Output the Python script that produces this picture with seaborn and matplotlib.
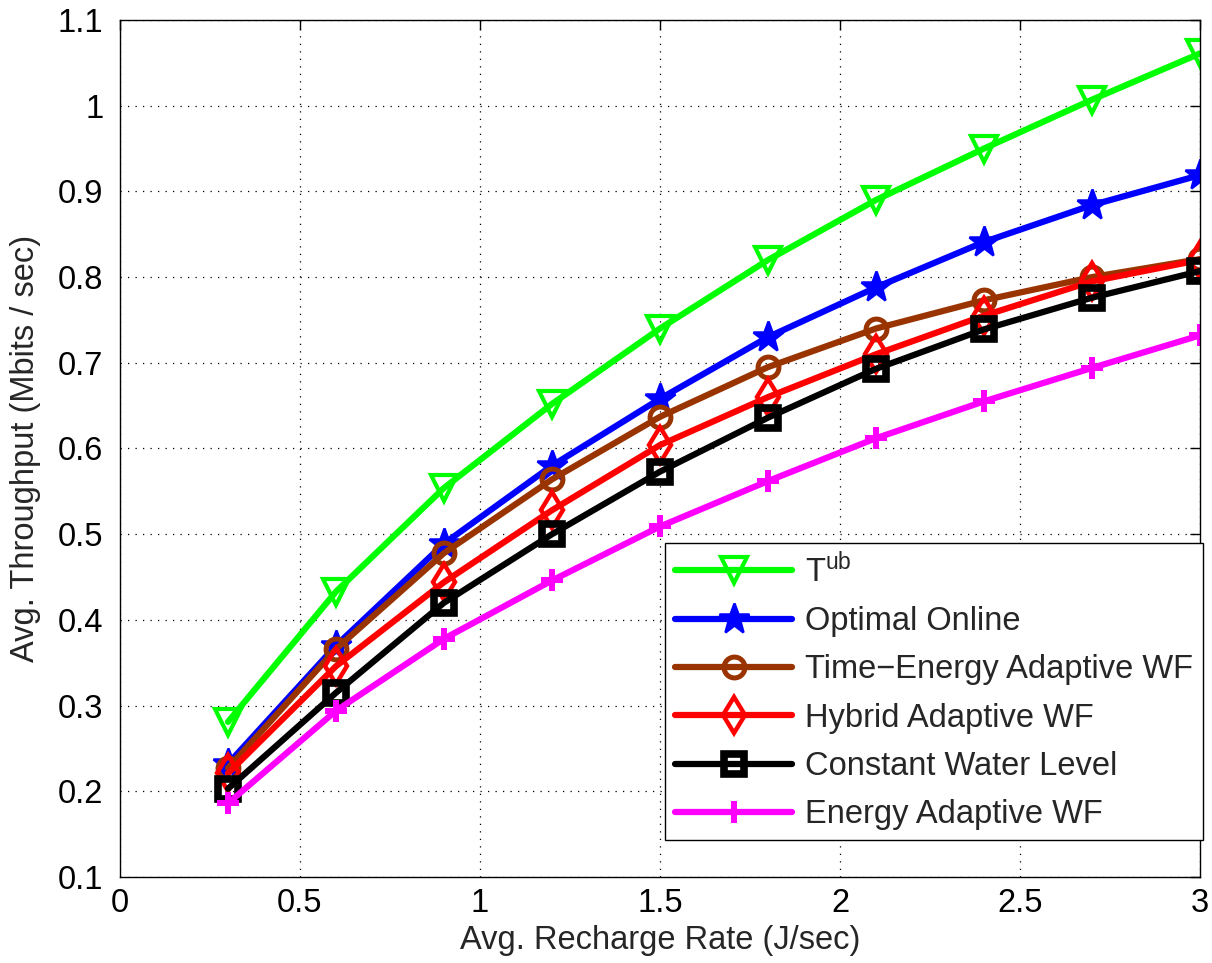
import numpy as np
import pandas as pd
import matplotlib
matplotlib.use("Agg")
import matplotlib.pyplot as plt
import seaborn as sns
from matplotlib.ticker import FuncFormatter

# ---- data ----
recharge_rate = [0.3, 0.6, 0.9, 1.2, 1.5, 1.8, 2.1, 2.4, 2.7, 3.0]
t_ub = [0.281, 0.433, 0.554, 0.652, 0.740, 0.820, 0.890, 0.950, 1.007, 1.061]
optimal_online = [0.232, 0.370, 0.489, 0.580, 0.658, 0.730, 0.788, 0.841, 0.884, 0.919]
time_energy_wf = [0.227, 0.366, 0.478, 0.564, 0.637, 0.695, 0.740, 0.773, 0.800, 0.821]
hybrid_wf = [0.221, 0.346, 0.444, 0.528, 0.604, 0.660, 0.710, 0.755, 0.795, 0.820]
constant_water = [0.203, 0.315, 0.420, 0.500, 0.573, 0.636, 0.693, 0.739, 0.776, 0.807]
energy_wf = [0.186, 0.294, 0.378, 0.446, 0.509, 0.562, 0.612, 0.655, 0.694, 0.732]

labels = [r"$\mathregular{T^{ub}}$", "Optimal Online", "Time\u2212Energy Adaptive WF",
          "Hybrid Adaptive WF", "Constant Water Level", "Energy Adaptive WF"]
series = [t_ub, optimal_online, time_energy_wf, hybrid_wf, constant_water, energy_wf]

x_ticks = [0, 0.5, 1, 1.5, 2, 2.5, 3]
y_ticks = [0.1, 0.2, 0.3, 0.4, 0.5, 0.6, 0.7, 0.8, 0.9, 1.0, 1.1]

colors = ["#00ff00", "#0000ff", "#993300", "#ff0000", "#000000", "#ff00ff"]
markers = ["v", "*", "o", "d", "s", "+"]
msizes = [19, 23, 15, 18, 15, 16]
mfaces = ["none", "#0000ff", "none", "none", "none", "none"]
mews = [3.0, 1.8, 3.6, 3.2, 5.5, 4.3]

sns.set_theme(style="white")
plt.rcParams["font.family"] = ["Liberation Sans", "DejaVu Sans"]
plt.rcParams["mathtext.default"] = "regular"

fig = plt.figure(figsize=(12.12, 9.63), dpi=100)
ax = fig.add_axes([120 / 1212, 86 / 963, 1080 / 1212, 857 / 963])

for vals, lab, c, m, ms, mf, mew in zip(series, labels, colors, markers, msizes, mfaces, mews):
    df = pd.DataFrame({"x": recharge_rate, "y": vals})
    sns.lineplot(data=df, x="x", y="y", ax=ax, color=c, linewidth=4.5, marker=m,
                 markersize=ms, markerfacecolor=mf, markeredgecolor=c,
                 markeredgewidth=mew, label=lab, legend=False)

ax.set_xlim(0, 3)
ax.set_ylim(0.1, 1.1)
ax.set_xticks(x_ticks)
ax.set_yticks(y_ticks)
fmt = FuncFormatter(lambda v, p: "%g" % round(v, 2))
ax.xaxis.set_major_formatter(fmt)
ax.yaxis.set_major_formatter(fmt)

ax.grid(True, color="black", linestyle=(0, (1, 5)), linewidth=0.9)
for s in ax.spines.values():
    s.set_color("black")
    s.set_linewidth(1.0)
    s.set_visible(True)
ax.tick_params(direction="in", length=7, width=1, top=True, right=True,
               labelsize=23.5, colors="black")
ax.tick_params(axis="x", pad=8)
ax.tick_params(axis="y", pad=12)

ax.set_xlabel("Avg. Recharge Rate (J/sec)", fontsize=23.5, labelpad=4)
ax.set_ylabel("Avg. Throughput (Mbits / sec)", fontsize=23.5, labelpad=12)

leg = ax.legend(loc="lower right", bbox_to_anchor=(1.003, 0.043), borderaxespad=0,
                fontsize=23.5, frameon=True, fancybox=False, framealpha=1,
                edgecolor="black", handlelength=3.6, handletextpad=0.4,
                labelspacing=0.53, borderpad=0.3, numpoints=1)
leg.get_frame().set_linewidth(1.0)

fig.savefig("out.png", dpi=100, facecolor="white")
